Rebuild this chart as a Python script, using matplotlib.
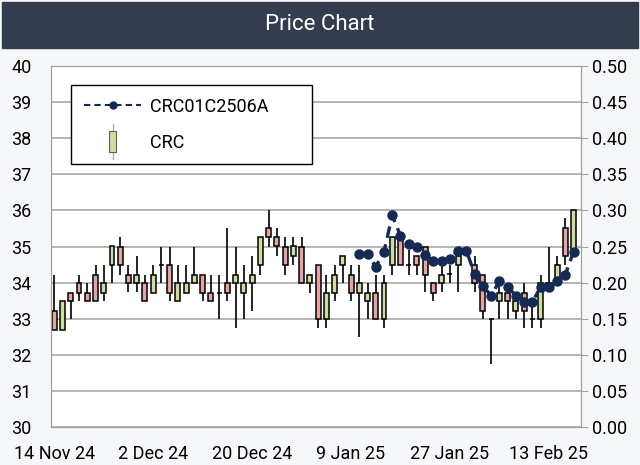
import matplotlib

matplotlib.use("Agg")
import matplotlib.pyplot as plt  # noqa: E402
import numpy as np  # noqa: E402
from matplotlib.legend_handler import HandlerBase  # noqa: E402
from matplotlib.lines import Line2D  # noqa: E402
from matplotlib.patches import Rectangle  # noqa: E402

plt.rcParams["font.family"] = ["Roboto", "DejaVu Sans"]

# CRC daily candles (left axis)
opens = [33.2, 32.7, 33.7, 34.0, 33.7, 34.2, 33.7, 34.5, 35.0, 34.2,
         34.0, 34.0, 33.7, 34.5, 34.5, 33.5, 33.7, 34.0, 34.2, 33.7,
         33.7, 34.0, 34.0, 33.7, 34.0, 34.5, 35.5, 35.25, 35.0, 34.75,
         35.0, 34.0, 34.5, 33.0, 33.7, 34.5, 34.2, 33.7, 33.5, 33.7,
         33.0, 34.5, 35.25, 34.5, 34.75, 35.0, 34.0, 34.0, 34.25, 34.5,
         34.85, 34.5, 34.2, 33.0, 33.5, 33.7, 33.2, 33.7, 33.0, 33.0,
         33.8, 34.0, 35.5, 34.9]
highs = [34.2, 33.5, 33.7, 34.2, 34.0, 34.5, 34.5, 35.0, 35.25, 34.5,
         34.75, 34.2, 34.5, 35.0, 35.0, 34.5, 34.5, 35.0, 34.2, 34.2,
         34.2, 35.5, 35.0, 34.5, 34.75, 35.25, 36.0, 35.5, 35.25, 35.25,
         35.25, 34.2, 34.5, 34.2, 34.5, 34.75, 34.5, 34.5, 34.0, 34.2,
         34.2, 35.25, 35.25, 34.9, 34.75, 35.0, 34.0, 34.5, 34.5, 35.0,
         35.0, 34.75, 34.2, 33.0, 34.0, 34.0, 33.5, 34.0, 33.5, 34.2,
         35.0, 34.75, 35.8, 36.0]
lows = [32.7, 32.7, 33.0, 33.5, 33.5, 33.5, 33.5, 34.0, 34.2, 33.75,
        33.75, 33.5, 33.7, 34.0, 33.5, 33.5, 33.7, 34.0, 33.5, 33.5,
        33.0, 33.5, 32.75, 33.0, 33.2, 34.2, 35.0, 34.75, 34.2, 34.5,
        34.0, 33.7, 32.75, 32.75, 33.5, 34.0, 33.5, 32.5, 33.0, 33.0,
        32.75, 34.2, 34.5, 34.2, 34.2, 33.75, 33.5, 33.75, 34.0, 33.75,
        34.75, 33.75, 33.0, 31.75, 33.0, 33.0, 33.0, 32.75, 32.75, 32.75,
        33.75, 34.0, 34.5, 34.9]
closes = [32.7, 33.5, 33.5, 33.7, 33.5, 33.5, 34.0, 35.0, 34.5, 34.0,
          34.2, 33.5, 34.2, 34.5, 33.7, 34.0, 34.0, 34.2, 33.7, 33.5,
          33.7, 33.7, 34.2, 34.0, 34.2, 35.25, 35.25, 35.0, 34.5, 35.0,
          34.0, 34.2, 33.0, 33.7, 34.2, 34.75, 33.7, 34.0, 33.7, 33.0,
          34.0, 35.25, 34.5, 34.5, 34.5, 34.2, 33.7, 34.2, 34.25, 34.75,
          34.85, 34.0, 33.2, 33.0, 33.7, 33.5, 33.5, 33.2, 33.0, 34.0,
          34.0, 34.5, 34.75, 36.0]

# CRC01C2506A (right axis), starts at candle index 37
opt_start = 37
opt_vals = [0.24, 0.24, 0.222, 0.243, 0.293, 0.265, 0.254, 0.25, 0.238, 0.23,
            0.23, 0.232, 0.244, 0.244, 0.212, 0.195, 0.182, 0.202, 0.194, 0.182,
            0.173, 0.173, 0.194, 0.194, 0.202, 0.211, 0.243]

date_labels = ["14 Nov 24", "2 Dec 24", "20 Dec 24", "9 Jan 25", "27 Jan 25", "13 Feb 25"]
date_idx = [0, 12, 24, 36, 48, 60]

RED = "#e8a3a3"
GREEN = "#cbdd9f"
NAVY = "#142a55"
GRID = "#a0a0a0"
HEADER = "#343c4f"


class CandleHandler(HandlerBase):
    def create_artists(self, legend, orig, xd, yd, w, h, fontsize, trans):
        cx = -xd + w / 2
        y0 = -yd
        wick = Line2D([cx, cx], [y0 - 0.9 * h, y0 + 1.9 * h], color="#b0b0b0", lw=1, transform=trans)
        body = Rectangle((cx - 2.2, y0 - 0.35 * h), 4.4, 1.7 * h, facecolor=GREEN,
                         edgecolor="#606060", lw=0.8, transform=trans)
        return [wick, body]


fig = plt.figure(figsize=(6.4, 4.65), dpi=100, facecolor="#f6f7f9")
fig.patches.append(Rectangle((2 / 640, 1 - 48 / 465), 636 / 640, 46 / 465,
                             transform=fig.transFigure, color=HEADER, zorder=0))
fig.text(0.5, 1 - 25 / 465, "Price Chart", color="white", ha="center", va="center", fontsize=16)

ax = fig.add_axes([51 / 640, 1 - 427 / 465, 530 / 640, 361 / 465])
ax.set_facecolor("white")

o = np.array(opens)
c = np.array(closes)
x = np.arange(len(o))
cols = np.where(c >= o, GREEN, RED)
ax.vlines(x, lows, highs, color="black", lw=1.2, zorder=2)
ax.bar(x, c - o, bottom=o, width=0.6, color=cols, edgecolor="black", linewidth=1.1, zorder=3)

ax.set_xlim(-0.4, 63.9)
ax.set_ylim(30, 40)
ax.set_yticks(np.arange(30, 41, 1))
ax.grid(axis="y", color=GRID, lw=1.1)
ax.set_axisbelow(True)
ax.set_xticks(date_idx)
ax.set_xticklabels(date_labels)
ax.tick_params(axis="x", length=0, pad=13, labelsize=13)
ax.tick_params(axis="y", length=0, pad=14, labelsize=13)
for s in ax.spines.values():
    s.set_color(GRID)

ax2 = ax.twinx()
ax2.set_ylim(0, 0.5)
ax2.set_yticks(np.arange(0, 0.51, 0.05))
ax2.yaxis.set_major_formatter(lambda v, p: f"{v:.2f}")
ax2.tick_params(axis="y", length=5, color=GRID, pad=3, labelsize=13)
for s in ax2.spines.values():
    s.set_color(GRID)
xo = np.arange(opt_start, opt_start + len(opt_vals))
(ln,) = ax2.plot(xo, opt_vals, color=NAVY, lw=2.4, ls=(0, (3.5, 2)),
                 marker="o", ms=6.5, mec=NAVY, mfc=NAVY, zorder=4)

leg_line = Line2D([], [], color=NAVY, lw=1.5, ls=(0, (3, 2)), marker="o", ms=5, mfc=NAVY, mec=NAVY)
leg_candle = Rectangle((0, 0), 1, 1)
leg = ax2.legend([leg_line, leg_candle], ["CRC01C2506A", "CRC"],
                 handler_map={Rectangle: CandleHandler()},
                 loc="upper left", bbox_to_anchor=(0.0377, 0.747, 0.455, 0.2),
                 mode="expand", borderaxespad=0, fancybox=False, framealpha=1,
                 edgecolor="black", fontsize=13, handlelength=3.2, handletextpad=0.5,
                 labelspacing=1.0, borderpad=0.7)
leg.get_frame().set_linewidth(1)

fig.savefig("out.png", dpi=100, facecolor=fig.get_facecolor())
